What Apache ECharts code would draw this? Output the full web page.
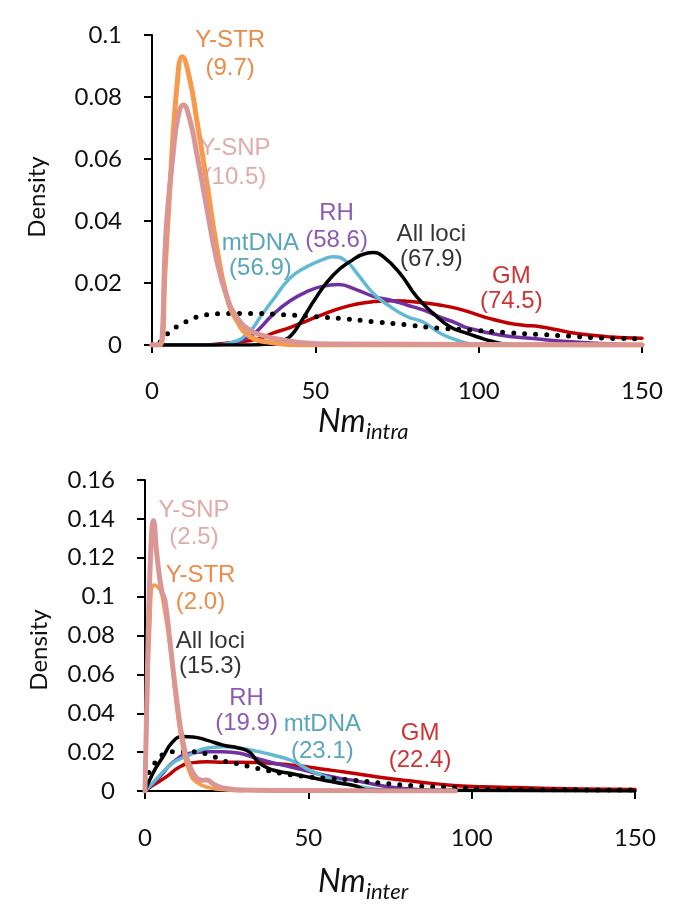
<!DOCTYPE html>
<html><head><meta charset="utf-8">
<script src="https://cdn.jsdelivr.net/npm/echarts@6/dist/echarts.min.js"></script>
<style>html,body{margin:0;padding:0;background:#fff}#c{width:685px;height:913px}</style>
</head><body><div id="c"></div><script>
// ---------- DATA: top panel (Nm intra) ----------
var xTicks = [0, 50, 100, 150];
var topYTicks = [0, 0.02, 0.04, 0.06, 0.08, 0.1];
var botYTicks = [0, 0.02, 0.04, 0.06, 0.08, 0.1, 0.12, 0.14, 0.16];

var topGM_x  = [0, 15, 20, 26, 32, 37, 42.2, 47.4, 52.4, 57.5, 62.7, 67.7, 72.9, 78, 83, 88, 93.3, 98.4, 103.5, 108.6, 113.7, 118.8, 124, 129, 134, 139.2, 145, 150];
var topGM_y  = [0, 0, 0.0003, 0.001, 0.0018, 0.0038, 0.0056, 0.0078, 0.0099, 0.0118, 0.0132, 0.014, 0.0143, 0.0141, 0.0136, 0.0129, 0.0118, 0.0102, 0.0085, 0.0072, 0.0064, 0.0059, 0.0049, 0.0039, 0.0032, 0.0027, 0.0023, 0.0022];
var topRH_x  = [0, 18, 22, 26, 31, 37, 42.2, 47.4, 52.4, 57, 62.7, 67.7, 72.9, 78, 83, 88, 93.3, 96.3, 106.5, 116.7, 127, 137, 145, 150];
var topRH_y  = [0, 0, 0.0003, 0.001, 0.0035, 0.0098, 0.0142, 0.0172, 0.019, 0.0195, 0.0178, 0.0157, 0.0145, 0.0129, 0.0113, 0.0091, 0.007, 0.0056, 0.0032, 0.0021, 0.0011, 0.0005, 0.0002, 0];
var topMt_x  = [0, 18, 25, 30, 33, 37, 42.2, 47.3, 52.4, 55.5, 59.6, 62.7, 67.7, 72.9, 78, 83, 88.2, 93.3, 97, 100, 150];
var topMt_y  = [0, 0, 0.001, 0.0045, 0.0088, 0.0145, 0.0215, 0.0252, 0.0276, 0.0285, 0.0269, 0.0232, 0.0167, 0.0124, 0.0092, 0.0074, 0.0038, 0.0016, 0.0004, 0, 0];
var topAll_x = [0, 30, 38, 40.2, 42.5, 45.3, 50.4, 55.5, 60.6, 65.7, 67.7, 70.8, 75.9, 81, 86.1, 91.2, 96.3, 100, 104, 108, 112, 150];
var topAll_y = [0, 0, 0.0008, 0.0015, 0.003, 0.007, 0.0156, 0.0226, 0.0269, 0.0296, 0.0298, 0.0285, 0.0231, 0.0156, 0.0102, 0.0059, 0.0038, 0.0025, 0.0012, 0.0003, 0, 0];
var topDot_x = [2.5, 6, 9.6, 12.6, 15.7, 18.8, 23, 30, 40, 50.4, 57.6, 67.7, 78, 88, 98.4, 108.6, 118.8, 129, 139, 150];
var topDot_y = [0.001, 0.0048, 0.007, 0.0086, 0.0095, 0.01, 0.0102, 0.0102, 0.0098, 0.0091, 0.0086, 0.0075, 0.0065, 0.0054, 0.0048, 0.004, 0.0034, 0.0028, 0.0022, 0.002];
var topSTR_x = [0, 2.5, 4, 5.5, 7.6, 9.3, 11.6, 13.7, 16.7, 19.8, 22.9, 25.9, 30, 35, 42, 50, 150];
var topSTR_y = [0, 0, 0.024, 0.051, 0.083, 0.093, 0.0855, 0.0726, 0.053, 0.0317, 0.0156, 0.008, 0.0027, 0.001, 0.0002, 0, 0];
var topSNP_x = [0, 2, 4.5, 6.5, 8, 9.6, 11.6, 13.7, 16.7, 19.8, 22.9, 25.9, 30, 35.1, 40.2, 45, 55, 150];
var topSNP_y = [0, 0, 0.04, 0.062, 0.0737, 0.0774, 0.0726, 0.0618, 0.0446, 0.0274, 0.0156, 0.0091, 0.0048, 0.0027, 0.0016, 0.0008, 0.0003, 0];

// ---------- DATA: bottom panel (Nm inter) ----------
var botGM_x  = [0, 2.5, 6.6, 10.7, 14.8, 18.9, 24, 29, 34.2, 39.3, 44.4, 49.5, 54.6, 59.7, 64.8, 73, 83.2, 93.4, 103.6, 113.8, 124, 134, 150];
var botGM_y  = [0, 0.003, 0.0074, 0.0125, 0.0146, 0.015, 0.0148, 0.0148, 0.0146, 0.0142, 0.0134, 0.0125, 0.0112, 0.0101, 0.0089, 0.0068, 0.0048, 0.003, 0.0022, 0.0018, 0.0013, 0.001, 0.0008];
var botRH_x  = [0, 4.6, 8.7, 13.8, 18.9, 24, 29, 34.2, 39.3, 44.4, 49.5, 54.6, 59.7, 64.8, 73, 80, 86, 90];
var botRH_y  = [0, 0.0074, 0.015, 0.0194, 0.0202, 0.0202, 0.0194, 0.0168, 0.0144, 0.0125, 0.0104, 0.0082, 0.0065, 0.0052, 0.0026, 0.0012, 0.0003, 0];
var botMt_x  = [0, 3.2, 8.4, 13.6, 18.7, 23.8, 29, 34.1, 39.2, 44.4, 47.4, 50, 55, 60, 65, 70, 75];
var botMt_y  = [0, 0.0057, 0.0142, 0.0185, 0.022, 0.0228, 0.022, 0.0205, 0.0185, 0.016, 0.0135, 0.011, 0.0075, 0.0045, 0.0025, 0.001, 0];
var botAll_x = [0, 2.4, 5.5, 8.5, 11.6, 14.7, 18.8, 23.9, 29, 32, 35.1, 39.2, 44.3, 49.4, 54.5, 59.6, 64.7, 68, 150];
var botAll_y = [0, 0.0091, 0.0176, 0.0253, 0.028, 0.0278, 0.0262, 0.0236, 0.022, 0.02, 0.0142, 0.0108, 0.0091, 0.0074, 0.0057, 0.004, 0.0025, 0.0005, 0];
var botDot_x = [0.5, 2.5, 8.7, 15.3, 18.9, 22.4, 25.5, 29, 32, 35.7, 42, 49.5, 55, 62.8, 73, 83.2, 93.4, 103, 120, 150];
var botDot_y = [0.004, 0.0134, 0.0202, 0.0202, 0.019, 0.0168, 0.0148, 0.0139, 0.0125, 0.0112, 0.009, 0.0074, 0.0066, 0.0057, 0.004, 0.0026, 0.0019, 0.001, 0.0007, 0.0005];
var botSTR_x = [0, 0.5, 1.5, 2.8, 4.6, 5.6, 7.7, 9.7, 11.7, 13.8, 15.8, 19.9, 25, 30];
var botSTR_y = [0, 0.03, 0.085, 0.106, 0.1035, 0.0967, 0.074, 0.043, 0.021, 0.009, 0.0045, 0.0016, 0.0005, 0];
var botSNP_x = [0, 0.8, 1.8, 2.6, 3.6, 5.1, 6.1, 7.7, 9.7, 11.7, 13.8, 15.8, 17.5, 18.9, 20.9, 23, 26, 30, 40, 95];
var botSNP_y = [0, 0.067, 0.125, 0.139, 0.122, 0.103, 0.098, 0.076, 0.047, 0.0247, 0.0125, 0.0067, 0.0055, 0.0057, 0.0036, 0.002, 0.001, 0.0005, 0.0003, 0];

// annotation texts
var topLabels = ['Y-STR\n(9.7)', 'Y-SNP\n(10.5)', 'mtDNA\n(56.9)', 'RH\n(58.6)', 'All loci\n(67.9)', 'GM\n(74.5)'];
var botLabels = ['Y-SNP\n(2.5)', 'Y-STR\n(2.0)', 'All loci\n(15.3)', 'RH\n(19.9)', 'mtDNA\n(23.1)', 'GM\n(22.4)'];

// ---------- build ----------
function zip(xs, ys) { return xs.map(function (x, i) { return [x, ys[i]]; }); }
var C = { str: '#F79A4B', strT: '#E46F1B', snp: '#D99694', mt: '#62B9D2', mtT: '#2F8EA7', rh: '#7030A0', gm: '#C00000', all: '#000000' };
var tickFont = 'Lato, "Noto Sans", sans-serif';
var annFont = '"Liberation Sans", Arial, sans-serif';

function line(gi, data, color, width, dotted) {
  return {
    type: 'line', xAxisIndex: gi, yAxisIndex: gi, data: data, showSymbol: false, silent: true,
    smooth: 0.5,
    lineStyle: dotted ? { color: color, width: 5, type: [0, 11], cap: 'round' } : { color: color, width: width, cap: 'round', join: 'round' }
  };
}
function ann(gi, x, y, text, color, lh) {
  return {
    type: 'scatter', xAxisIndex: gi, yAxisIndex: gi, silent: true, symbolSize: 0, z: 10,
    data: [[x, y]],
    label: { show: true, position: 'inside', formatter: text, color: color, fontFamily: annFont, fontSize: 24, lineHeight: lh, align: 'center', verticalAlign: 'middle' }
  };
}
function xAx(gi, margin) {
  return {
    type: 'value', gridIndex: gi, min: 0, max: 150, interval: 50,
    axisLine: { show: true, onZero: false, lineStyle: { color: '#000', width: 2 } },
    axisTick: { show: true, inside: false, length: 8, lineStyle: { color: '#000', width: 2 } },
    axisLabel: { color: '#111', fontFamily: tickFont, fontSize: 24, margin: margin },
    splitLine: { show: false }
  };
}
function yAx(gi, max, ticks) {
  return {
    type: 'value', gridIndex: gi, min: 0, max: max, interval: 0.02,
    axisLine: { show: true, onZero: false, lineStyle: { color: '#000', width: 2 } },
    axisTick: { show: true, inside: false, length: 8, lineStyle: { color: '#000', width: 2 } },
    axisLabel: { color: '#111', fontFamily: tickFont, fontSize: 24, margin: 30,
      formatter: function (v) { return String(+v.toFixed(2)); } },
    splitLine: { show: false }
  };
}

var series = [
  line(0, zip(topGM_x, topGM_y), C.gm, 3.5),
  line(0, zip(topRH_x, topRH_y), C.rh, 3.5),
  line(0, zip(topMt_x, topMt_y), C.mt, 3.5),
  line(0, zip(topAll_x, topAll_y), C.all, 3.5),
  line(0, zip(topDot_x, topDot_y), '#000', 4, true),
  line(0, zip(topSTR_x, topSTR_y), C.str, 5),
  line(0, zip(topSNP_x, topSNP_y), C.snp, 5),
  line(1, zip(botGM_x, botGM_y), C.gm, 3.5),
  line(1, zip(botRH_x, botRH_y), C.rh, 3.5),
  line(1, zip(botMt_x, botMt_y), C.mt, 3.5),
  line(1, zip(botAll_x, botAll_y), C.all, 3.5),
  line(1, zip(botDot_x, botDot_y), '#000', 4, true),
  line(1, zip(botSTR_x, botSTR_y), C.str, 3.5),
  line(1, zip(botSNP_x, botSNP_y), C.snp, 5),
  ann(0, 23.9, 0.0939, topLabels[0], C.strT, 28),
  ann(0, 25.4, 0.0589, topLabels[1], C.snp, 29),
  ann(0, 33.2, 0.0289, topLabels[2], C.mtT, 25),
  ann(0, 56.5, 0.0382, topLabels[3], C.rh, 27),
  ann(0, 85.5, 0.0315, topLabels[4], '#000', 25),
  ann(0, 110, 0.0181, topLabels[5], C.gm, 25),
  ann(1, 15, 0.1376, botLabels[0], C.snp, 27),
  ann(1, 17, 0.1042, botLabels[1], C.strT, 27),
  ann(1, 20, 0.0705, botLabels[2], '#000', 25),
  ann(1, 31.1, 0.0414, botLabels[3], C.rh, 25),
  ann(1, 54.3, 0.0271, botLabels[4], C.mtT, 27),
  ann(1, 84.2, 0.0228, botLabels[5], C.gm, 27)
];

var chart = echarts.init(document.getElementById('c'), null, { renderer: 'canvas' });
chart.setOption({
  backgroundColor: '#fff',
  animation: false,
  grid: [
    { left: 152, right: 43, top: 35, height: 310 },
    { left: 145, right: 50, top: 480, height: 311 }
  ],
  xAxis: [xAx(0, 34), xAx(1, 35)],
  yAxis: [yAx(0, 0.1, topYTicks), yAx(1, 0.16, botYTicks)],
  series: series,
  graphic: [
    { type: 'text', x: 37, y: 197, rotation: Math.PI / 2, style: { text: 'Density', font: '24px ' + tickFont, fill: '#111', align: 'center', verticalAlign: 'middle' } },
    { type: 'text', x: 39, y: 650, rotation: Math.PI / 2, style: { text: 'Density', font: '24px ' + tickFont, fill: '#111', align: 'center', verticalAlign: 'middle' } },
    { type: 'text', x: 318, y: 422, style: { text: 'Nm', font: 'italic 32px ' + tickFont, fill: '#111', align: 'left', verticalAlign: 'middle' } },
    { type: 'text', x: 366, y: 432, style: { text: 'intra', font: 'italic 22px ' + tickFont, fill: '#111', align: 'left', verticalAlign: 'middle' } },
    { type: 'text', x: 318, y: 882, style: { text: 'Nm', font: 'italic 32px ' + tickFont, fill: '#111', align: 'left', verticalAlign: 'middle' } },
    { type: 'text', x: 366, y: 892, style: { text: 'inter', font: 'italic 22px ' + tickFont, fill: '#111', align: 'left', verticalAlign: 'middle' } }
  ]
});
</script></body></html>
